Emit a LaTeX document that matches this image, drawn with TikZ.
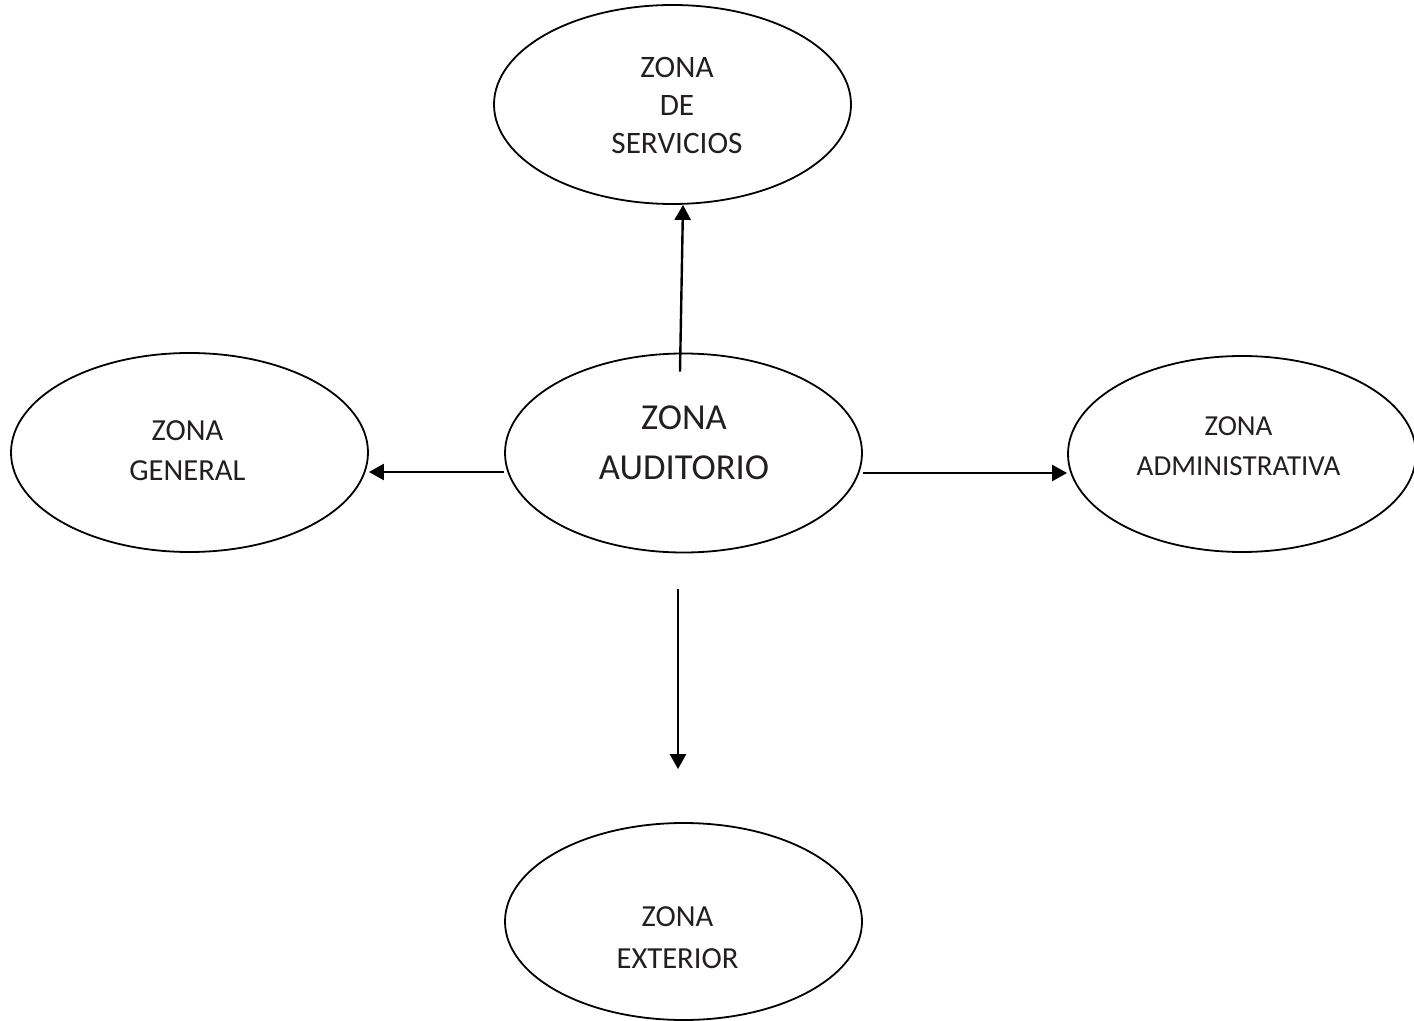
\documentclass[tikz,border=0pt]{standalone}
\usepackage{fontspec}
\setmainfont{Carlito}
\usetikzlibrary{shapes}
\usetikzlibrary{positioning}
\usetikzlibrary{arrows.meta}
\usetikzlibrary{graphs}
\definecolor{tinta}{HTML}{231F20}

\begin{document}
\begin{tikzpicture}[x=0.5pt, y=-0.5pt,
        zona/.style={draw, ellipse, line width=0.9pt, inner sep=0pt, minimum width=178.5pt, minimum height=99.5pt},
        rotulo/.style={align=center, inner sep=0pt, text=tinta, font=\fontsize{15.3}{20}\selectfont},
        rotulo grande/.style={align=center, inner sep=0pt, text=tinta, font=\fontsize{18.3}{25}\selectfont}]
        \useasboundingbox (0,0) rectangle (1414,1021);

        \node[zona] (auditorio) at (683.5,453) {};
        \node[rotulo grande] (auditorio text) at (684,442.5) {ZONA\\AUDITORIO};

        \node[zona] (servicios) at (672.5,104.5) {};
        \node[rotulo, font=\fontsize{15.6}{19}\selectfont] (servicios text) at (677,105.5) {ZONA\\DE\\SERVICIOS};

        \node[zona] (general) at (189.5,452.5) {};
        \node[rotulo] (general text) at (187.5,450.5) {ZONA\\GENERAL};

        \node[zona, minimum width=174pt, minimum height=98pt] (administrativa) at (1242,454) {};
        \node[rotulo, font=\fontsize{14.5}{20}\selectfont] (administrativa text) at (1238.5,446) {ZONA\\ADMINISTRATIVA};

        \node[zona, minimum height=98.5pt] (exterior) at (683.5,921.5) {};
        \node[rotulo, font=\fontsize{15.3}{21}\selectfont] (exterior text) at (677.5,937.5) {ZONA\\EXTERIOR};

        \coordinate[below=9.5pt of auditorio.north, xshift=-1.75pt] (auditorio port n);
        \coordinate[right=5.25pt of servicios.south] (servicios port);
        \coordinate[below=9.5pt of auditorio.west] (auditorio port w);
        \coordinate[below=9.75pt of general.east] (general port);
        \coordinate[below=10pt of auditorio.east] (auditorio port e);
        \coordinate[below=9.5pt of administrativa.west] (administrativa port);
        \coordinate[below=18pt of auditorio.south, xshift=-2.75pt] (auditorio port s);
        \coordinate[above=26.5pt of exterior.north, xshift=-2.75pt] (exterior port);

        \graph { [edges={draw, line width=1.2pt, arrows={-{Triangle[length=7.5pt, width=8pt]}}}]
            (auditorio port n) -> (servicios port),
            (auditorio port w) -> (general port),
            (auditorio port e) -> (administrativa port),
            (auditorio port s) -> (exterior port),
        };
    \end{tikzpicture}
\end{document}
